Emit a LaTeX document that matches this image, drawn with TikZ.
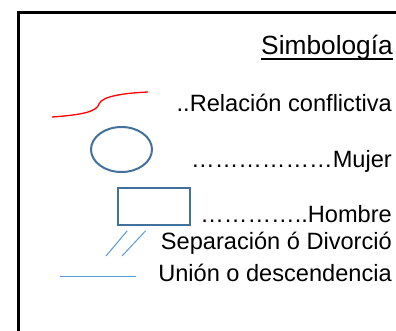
\documentclass[tikz,border=0pt]{standalone}
\usepackage{fontspec}
\setmainfont{Liberation Sans}
\usetikzlibrary{shapes.geometric}
\definecolor{symblue}{HTML}{41719C}
\definecolor{lineblue}{HTML}{5B9BD5}
\tikzset{
  lbl/.style={anchor=base east, inner sep=0pt, font=\fontsize{23.6}{28}\selectfont},
  ttl/.style={anchor=base east, inner sep=0pt, font=\fontsize{26.3}{31}\selectfont},
  sym/.style={draw=symblue, line width=2pt},
  thin/.style={draw=lineblue, line width=1pt}
}
\begin{document}
\begin{tikzpicture}[x=1pt,y=-1pt]
\clip (0,0) rectangle (396,330);
\fill[white] (0,0) rectangle (396,330);
% frame
\draw[line width=2.5pt] (18.5,400) -- (18.5,12.5) -- (420,12.5);
% title
\node[ttl] (title) at (393,54) {Simbología};
\draw[line width=1.7pt] ([yshift=-5pt]title.base west) -- ([yshift=-5pt]title.base east);
% conflict
\draw[red, line width=1.3pt] (52,117) .. controls (80,115) and (97,112) .. (99,104) .. controls (102,96) and (125,93) .. (148,92);
\node[lbl] (rel) at (392,111) {..Relación conflictiva};
% woman
\node[sym, ellipse, minimum width=61pt, minimum height=45pt, inner sep=0pt] (muj) at (121.5,149.5) {};
\node[lbl] (mujt) at (392,167) {………………Mujer};
% man
\node[sym, rectangle, minimum width=72pt, minimum height=37.5pt, inner sep=0pt] (hom) at (154,206.3) {};
\node[lbl] (homt) at (392,222) {…………..Hombre};
% separation
\draw[thin] (127.3,230.7) -- (106,256);
\draw[thin] (145.7,230.7) -- (122,256);
\node[lbl] (sep) at (392,249.5) {Separación ó Divorció};
% union
\draw[thin] (60,276.7) -- (136,276.7);
\node[lbl] (uni) at (392,281) {Unión o descendencia};
\end{tikzpicture}
\end{document}
